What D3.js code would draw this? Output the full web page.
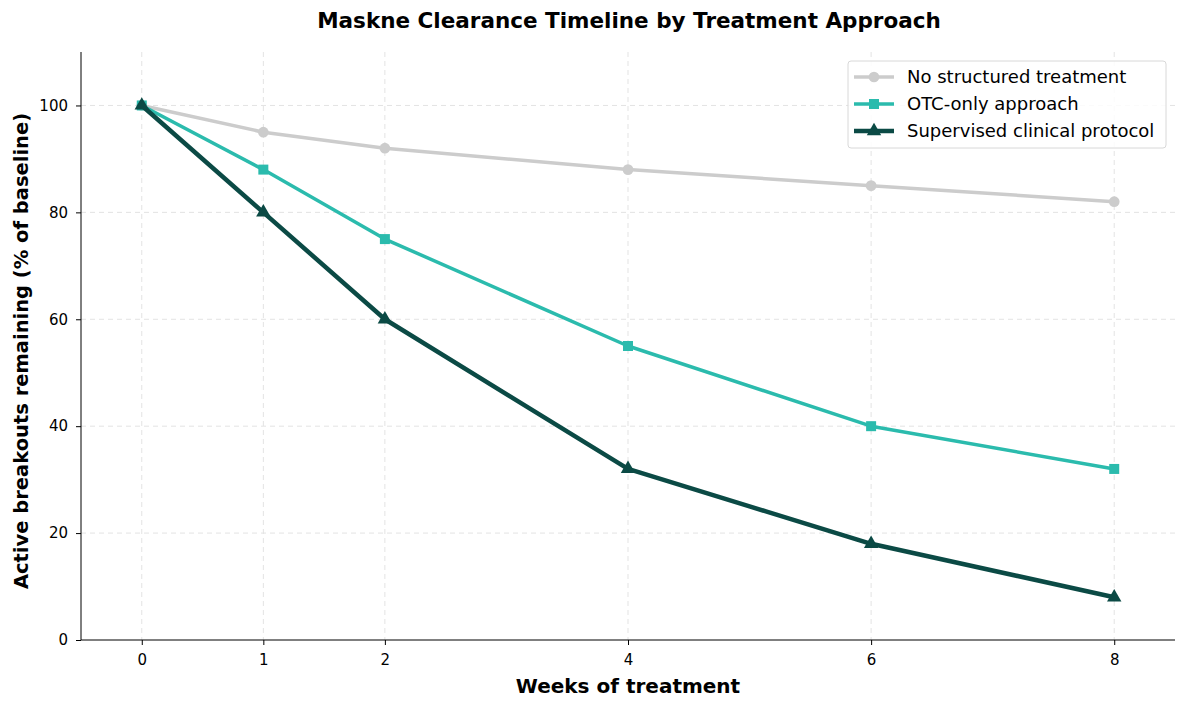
<!DOCTYPE html>
<html>
  <head>
    <meta charset="utf-8">
    <title>Maskne Clearance Timeline</title>
    <script src="https://cdn.jsdelivr.net/npm/d3@7"></script>
    <style>
      body { margin: 0; background: #fff; }
      svg text { font-family: "DejaVu Sans", sans-serif; }
      .grid line { stroke: #e3e3e3; stroke-dasharray: 5,4; }
      .axis path, .axis line { stroke: #000; }
      .axis text { font-size: 15px; fill: #000; }
    </style>
  </head>
  <body>
    <script>
      var weeks = [0, 1, 2, 4, 6, 8];
      var noTreatment = [100, 95, 92, 88, 85, 82];
      var otcOnly = [100, 88, 75, 55, 40, 32];
      var supervised = [100, 80, 60, 32, 18, 8];
      var seriesNames = ['No structured treatment', 'OTC-only approach', 'Supervised clinical protocol'];
      var yTicks = [0, 20, 40, 60, 80, 100];

      var w = 1188, h = 707;
      var mLeft = 81, mRight = 1175, mTop = 52, mBottom = 640;

      var series = [
        {name: seriesNames[0], values: noTreatment, color: '#cccccc', width: 3.5, marker: 'circle'},
        {name: seriesNames[1], values: otcOnly, color: '#2bbbad', width: 3.5, marker: 'square'},
        {name: seriesNames[2], values: supervised, color: '#0b4a45', width: 4.5, marker: 'triangle'}
      ];

      var xScale = d3.scaleLinear().domain([-0.5, 8.5]).range([mLeft, mRight]);
      var yScale = d3.scaleLinear().domain([0, 110]).range([mBottom, mTop]);

      var svg = d3.select('body').append('svg')
                  .attr('width', w)
                  .attr('height', h);

      // grid
      svg.append('g').attr('class', 'grid')
        .selectAll('line').data(weeks).enter().append('line')
        .attr('x1', function(d) { return xScale(d); })
        .attr('x2', function(d) { return xScale(d); })
        .attr('y1', mTop).attr('y2', mBottom);

      svg.append('g').attr('class', 'grid')
        .selectAll('line').data(yTicks.slice(1)).enter().append('line')
        .attr('x1', mLeft).attr('x2', mRight)
        .attr('y1', function(d) { return yScale(d); })
        .attr('y2', function(d) { return yScale(d); });

      // axes
      var xAxis = d3.axisBottom(xScale).tickValues(weeks).tickSize(5).tickPadding(9);
      var yAxis = d3.axisLeft(yScale).tickValues(yTicks).tickSize(5).tickPadding(8);

      svg.append('g').attr('class', 'axis')
        .attr('transform', 'translate(0,' + mBottom + ')')
        .call(xAxis)
        .call(function(g) { g.select('.domain').attr('d', 'M' + mLeft + ',0H' + mRight); });

      svg.append('g').attr('class', 'axis')
        .attr('transform', 'translate(' + mLeft + ',0)')
        .call(yAxis)
        .call(function(g) { g.select('.domain').attr('d', 'M0,' + mBottom + 'V' + mTop); });

      // lines
      var line = d3.line()
        .x(function(d, i) { return xScale(weeks[i]); })
        .y(function(d) { return yScale(d); });

      var sym = {
        circle: d3.symbol().type(d3.symbolCircle).size(90),
        square: d3.symbol().type(d3.symbolSquare).size(100),
        triangle: d3.symbol().type(d3.symbolTriangle).size(90)
      };

      series.forEach(function(s) {
        svg.append('path')
          .attr('d', line(s.values))
          .attr('fill', 'none')
          .attr('stroke', s.color)
          .attr('stroke-width', s.width)
          .attr('stroke-linejoin', 'round');

        svg.selectAll(null).data(s.values).enter().append('path')
          .attr('d', sym[s.marker])
          .attr('transform', function(d, i) { return 'translate(' + xScale(weeks[i]) + ',' + yScale(d) + ')'; })
          .attr('fill', s.color);
      });

      // legend
      var lg = svg.append('g').attr('transform', 'translate(848,61)');
      lg.append('rect')
        .attr('width', 318).attr('height', 87).attr('rx', 3)
        .attr('fill', '#fff').attr('fill-opacity', 0.85)
        .attr('stroke', '#d8d8d8');

      series.forEach(function(s, i) {
        var y = 16 + i * 27;
        lg.append('line')
          .attr('x1', 6).attr('x2', 46).attr('y1', y).attr('y2', y)
          .attr('stroke', s.color).attr('stroke-width', s.width);
        lg.append('path')
          .attr('d', sym[s.marker])
          .attr('transform', 'translate(26,' + y + ')')
          .attr('fill', s.color);
        lg.append('text')
          .attr('x', 59).attr('y', y + 6)
          .style('font-size', '18px')
          .text(s.name);
      });

      // titles
      svg.append('text')
        .attr('x', 629).attr('y', 28)
        .style('text-anchor', 'middle')
        .style('font-weight', 'bold')
        .style('font-size', '21.5px')
        .text('Maskne Clearance Timeline by Treatment Approach');

      svg.append('text')
        .attr('x', 628).attr('y', 693)
        .style('text-anchor', 'middle')
        .style('font-weight', 'bold')
        .style('font-size', '20px')
        .text('Weeks of treatment');

      svg.append('text')
        .attr('transform', 'rotate(-90)')
        .attr('x', -351).attr('y', 28)
        .style('text-anchor', 'middle')
        .style('font-weight', 'bold')
        .style('font-size', '19.5px')
        .text('Active breakouts remaining (% of baseline)');
    </script>
  </body>
</html>
